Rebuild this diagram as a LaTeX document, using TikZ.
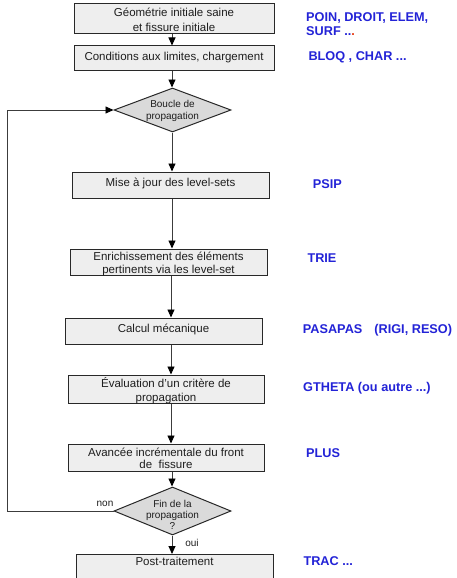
\documentclass[tikz,border=0pt]{standalone}
\usepackage{fontspec}
\setmainfont{Liberation Sans}
\usetikzlibrary{shapes.geometric,arrows.meta}
\definecolor{lblue}{RGB}{35,35,215}
\definecolor{boxfill}{RGB}{238,238,238}
\definecolor{diafill}{RGB}{218,218,218}
\definecolor{edge}{RGB}{40,40,40}
\definecolor{wire}{RGB}{60,60,60}
\definecolor{txt}{RGB}{30,30,30}
\definecolor{dotred}{RGB}{230,60,20}
\tikzset{
  stepbox/.style={draw=edge, line width=1pt, fill=boxfill, rectangle, inner sep=0pt,
    text=txt, align=center, font=\fontsize{11.5}{13.5}\selectfont},
  oneline/.style={text height=8pt, text depth=4.5pt},
  decision/.style={draw=edge, line width=1pt, fill=diafill, diamond, inner sep=0pt},
  dtext/.style={text=txt, align=center, inner sep=0pt},
  flow/.style={draw=wire, line width=0.9pt, -{Triangle[length=8pt,width=7pt,color=black]}},
  loopline/.style={draw=wire, line width=0.9pt},
  cmd/.style={anchor=base west, text=lblue, font=\fontsize{12.7}{14}\selectfont\bfseries, inner sep=0pt},
  small/.style={anchor=base, text=txt, font=\fontsize{10}{12}\selectfont, inner sep=0pt}
}
\begin{document}
\begin{tikzpicture}[x=1pt,y=-1pt]
\useasboundingbox (0,0) rectangle (457,578);
\clip (0,0) rectangle (457,578);
\fill[white] (0,0) rectangle (457,578);

\coordinate (col) at (172,0);
\coordinate (loop) at (7,300);

\node[stepbox, minimum width=200pt, minimum height=26pt, font=\fontsize{11.5}{15}\selectfont, text height=28pt, text depth=2pt] (b1) at (174,19) {Géométrie initiale saine\\et fissure initiale};
\node[stepbox, oneline, minimum width=200pt, minimum height=25pt] (b2) at (174,58.5) {Conditions aux limites, chargement};
\node[decision, minimum width=117pt, minimum height=44pt] (d1) at (172.5,110) {};
\node[dtext, font=\fontsize{10}{12}\selectfont] (d1t) at ([yshift=-1pt]d1.center) {Boucle de\\propagation};
\node[stepbox, oneline, minimum width=197pt, minimum height=26pt] (b3) at (170.5,185) {Mise à jour des level-sets};
\node[stepbox, minimum width=197pt, minimum height=26pt, font=\fontsize{11.5}{13}\selectfont, text height=24pt, text depth=2pt] (b4) at (168.5,262) {Enrichissement des éléments\\pertinents via les level-set};
\node[stepbox, oneline, minimum width=197pt, minimum height=26pt] (b5) at (163.5,331) {Calcul mécanique};
\node[stepbox, minimum width=196pt, minimum height=26pt, font=\fontsize{11.5}{14}\selectfont, text height=26pt, text depth=2pt] (b6) at (166,389) {Évaluation d'un critère de\\propagation};
\node[stepbox, minimum width=196pt, minimum height=27pt, font=\fontsize{11.5}{12}\selectfont, text height=23pt, text depth=2pt] (b7) at (166,457.5) {Avancée incrémentale du front\\de\ \ fissure};
\node[decision, minimum width=117pt, minimum height=48pt] (d2) at (172.5,511) {};
\node[dtext, font=\fontsize{10}{11}\selectfont] (d2t) at ([yshift=-4pt]d2.center) {Fin de la\\propagation\\?};
\node[stepbox, minimum width=197pt, anchor=north, inner ysep=3pt, text height=8pt, text depth=30pt] (b8) at (174.5,554) {Post-traitement};

\draw[flow] (b1.south -| col) -- (b2.north -| col);
\draw[flow] (b2.south -| col) -- (d1.north -| col);
\draw[flow] (d1.south -| col) -- (b3.north -| col);
\draw[flow] (b3.south -| col) -- (b4.north -| col);
\draw[flow] ([xshift=-1pt]b4.south -| col) -- ([xshift=-1pt]b5.north -| col);
\draw[flow] ([xshift=-1pt]b5.south -| col) -- ([xshift=-1pt]b6.north -| col);
\draw[flow] ([xshift=-1pt]b6.south -| col) -- ([xshift=-1pt]b7.north -| col);
\draw[flow] (b7.south -| col) -- (d2.north -| col);
\draw[flow] (d2.south -| col) -- (b8.north -| col);
\draw[loopline] (d2.west) -- (d2.west -| loop) -- (d1.west -| loop);
\draw[flow] (d1.west -| loop) -- (d1.west);

\node[small] (non) at (105,506.5) {non};
\node[small] (oui) at (192,546.5) {oui};

\node[cmd] (c1) at (306,22) {POIN, DROIT, ELEM,};
\node[cmd] (c1b) at (306,36) {SURF ..\textcolor{dotred}{.}};
\node[cmd] (c2) at (308.3,61) {BLOQ , CHAR ...};
\node[cmd] (c3) at (312.7,188.3) {PSIP};
\node[cmd] (c4) at (307.3,262.3) {TRIE};
\node[cmd] (c5) at (302.7,333.3) {PASAPAS\hspace{8.5pt} (RIGI, RESO)};
\node[cmd] (c6) at (303,391) {GTHETA (ou autre ...)};
\node[cmd] (c7) at (306,457.3) {PLUS};
\node[cmd] (c8) at (303.3,565.7) {TRAC ...};
\end{tikzpicture}
\end{document}
